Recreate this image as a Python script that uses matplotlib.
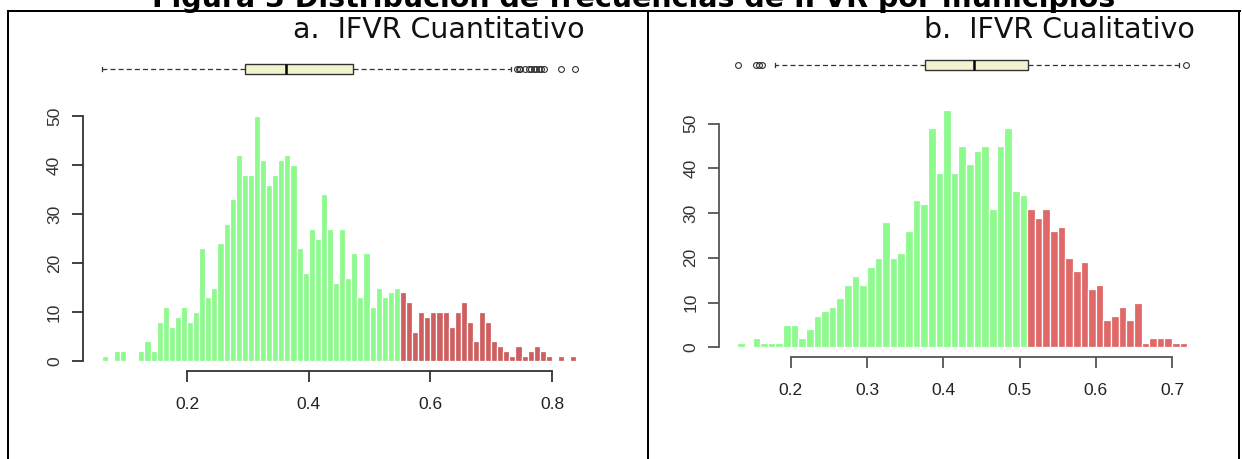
import matplotlib
matplotlib.use("Agg")
import matplotlib.pyplot as plt
import numpy as np
from matplotlib.lines import Line2D

# datos leidos de la figura
# a. IFVR Cuantitativo: conteos por intervalo de 0.01 desde 0.06
cuant_inicio = 0.06
cuant_conteos = [1, 0, 2, 2, 0, 0, 2, 4, 2, 8, 11, 7, 9, 11, 8, 10, 23, 13, 15, 24,
                 28, 33, 42, 38, 38, 50, 41, 36, 38, 41, 42, 40, 23, 18, 27, 25, 34, 27, 16, 27,
                 17, 22, 13, 22, 11, 15, 13, 14, 15, 14, 12, 6, 10, 9, 10, 10, 10, 7, 10, 12,
                 8, 4, 10, 8, 4, 3, 2, 1, 3, 1, 2, 3, 2, 1, 0, 1, 0, 1]
cuant_corte = 0.55
cuant_caja = dict(whislo=0.061, q1=0.295, med=0.363, q3=0.473, whishi=0.732,
                  fliers=[0.742, 0.745, 0.748, 0.755, 0.762, 0.766, 0.770, 0.774, 0.778,
                          0.782, 0.787, 0.814, 0.838])

# b. IFVR Cualitativo: conteos por intervalo de 0.01 desde 0.13
cual_inicio = 0.13
cual_conteos = [1, 0, 2, 1, 1, 1, 5, 5, 2, 4, 7, 8, 9, 11, 14, 16, 14, 18, 20, 28,
                20, 21, 26, 33, 32, 49, 39, 53, 39, 45, 41, 44, 45, 31, 45, 49, 35, 34, 31, 29,
                31, 26, 27, 20, 17, 19, 13, 14, 6, 7, 9, 6, 10, 1, 2, 2, 2, 1, 1]
cual_corte = 0.51
cual_caja = dict(whislo=0.179, q1=0.376, med=0.440, q3=0.511, whishi=0.709,
                 fliers=[0.131, 0.154, 0.158, 0.162, 0.718])

ancho = 0.01
verde = "#8cfa8c"

W, H = 1242, 459
fig = plt.figure(figsize=(W / 100, H / 100), dpi=100)


def ejes(x0, y0, x1, y1):
    # posicion en pixeles (origen arriba a la izquierda)
    return fig.add_axes([x0 / W, 1 - y1 / H, (x1 - x0) / W, (y1 - y0) / H])


def histograma(ax, inicio, conteos, corte, rojo, xlim, ylim, xticks, color_eje):
    bordes = inicio + ancho * np.arange(len(conteos))
    colores = [verde if b < corte - 1e-9 else rojo for b in bordes]
    ax.bar(bordes, conteos, width=ancho, align="edge", color=colores,
           edgecolor="white", linewidth=0.9)
    ax.set_xlim(*xlim)
    ax.set_ylim(*ylim)
    for s in ["top", "right"]:
        ax.spines[s].set_visible(False)
    ax.spines["bottom"].set_bounds(xticks[0], xticks[-1])
    ax.spines["left"].set_bounds(0, 50)
    for s in ["bottom", "left"]:
        ax.spines[s].set_color(color_eje)
        ax.spines[s].set_linewidth(1.3)
    ax.set_xticks(xticks)
    ax.set_xticklabels(["%.1f" % t for t in xticks])
    ax.set_yticks([0, 10, 20, 30, 40, 50])
    ax.set_yticklabels(["0", "10", "20", "30", "40", "50"], rotation=90, va="center")
    ax.tick_params(axis="x", length=8, width=1.3, color=color_eje, pad=11,
                   labelsize=12.5, labelcolor="#222222")
    ax.tick_params(axis="y", length=8, width=1.3, color=color_eje, pad=7,
                   labelsize=12.5, labelcolor="#333333")
    for lab in ax.get_xticklabels() + ax.get_yticklabels():
        lab.set_fontfamily("Liberation Sans")


def caja(ax, stats, xlim):
    ax.bxp([stats], positions=[0], widths=0.66, orientation="horizontal",
           patch_artist=True, capwidths=0.33,
           boxprops=dict(facecolor="#f3f3cf", edgecolor="#333333", linewidth=1),
           medianprops=dict(color="black", linewidth=1.8),
           whiskerprops=dict(color="#333333", linewidth=0.9, linestyle=(0, (4, 2.5))),
           capprops=dict(color="#333333", linewidth=0.9),
           flierprops=dict(marker="o", markerfacecolor="none", markeredgecolor="#333333",
                           markersize=4.2, markeredgewidth=0.8))
    ax.set_xlim(*xlim)
    ax.set_ylim(-1, 1)
    ax.axis("off")


# panel a
ax1 = ejes(82.9, 106.2, 595.3, 370.8)
histograma(ax1, cuant_inicio, cuant_conteos, cuant_corte, "#cd5f5f",
           (0.0288, 0.8712), (-2, 52), [0.2, 0.4, 0.6, 0.8], "#333333")
bx1 = ejes(82.9, 54, 595.3, 84)
caja(bx1, cuant_caja, (0.0288, 0.8712))

# panel b
ax2 = ejes(719.3, 100.8, 1205.3, 356.7)
histograma(ax2, cual_inicio, cual_conteos, cual_corte, "#e06868",
           (0.1064, 0.7436), (-2.12, 55.12), [0.2, 0.3, 0.4, 0.5, 0.6, 0.7], "#555555")
bx2 = ejes(719.3, 50, 1205.3, 80)
caja(bx2, cual_caja, (0.1064, 0.7436))

# marco de la tabla
lw = 1.45
fig.add_artist(Line2D([8 / W, 1240 / W], [1 - 11 / H, 1 - 11 / H], color="black", lw=lw))
for xv in [8, 648, 1239]:
    fig.add_artist(Line2D([xv / W, xv / W], [1 - 11 / H, 0], color="black", lw=lw))

# titulos
fig.text(634 / W, 1 - 7 / H, "Figura 3 Distribución de frecuencias de IFVR por municipios",
         ha="center", va="baseline", fontsize=20.5, fontweight="bold", family="DejaVu Sans")
fig.text(585 / W, 1 - 38 / H, "a.  IFVR Cuantitativo", ha="right", va="baseline",
         fontsize=20.5, family="DejaVu Sans", color="#111111")
fig.text(1195 / W, 1 - 38 / H, "b.  IFVR Cualitativo", ha="right", va="baseline",
         fontsize=20.5, family="DejaVu Sans", color="#111111")

fig.savefig("out.png", dpi=100)
